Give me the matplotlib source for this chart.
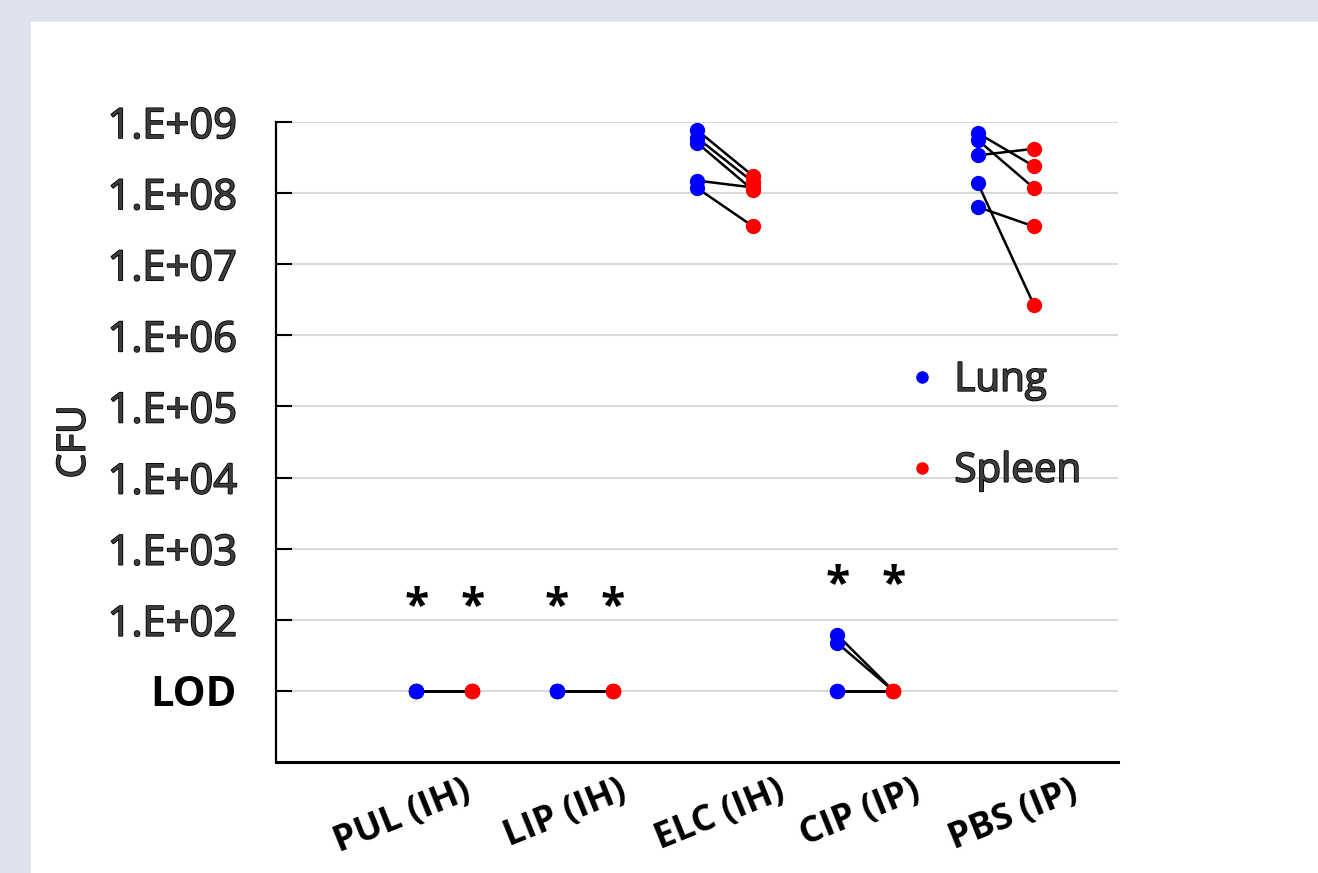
import matplotlib
matplotlib.use('Agg')
import matplotlib.pyplot as plt
import matplotlib.patheffects as pe
import matplotlib.transforms as mtrans
import numpy as np

# groups and paired lung / spleen CFU per mouse (LOD plotted at 1e1)
groups = ['PUL (IH)', 'LIP (IH)', 'ELC (IH)', 'CIP (IP)', 'PBS (IP)']
lung = [
    [10, 10, 10, 10, 10],
    [10, 10, 10, 10, 10],
    [7.7e8, 6.0e8, 5.1e8, 1.5e8, 1.18e8],
    [61, 47, 10, 10, 10],
    [7.0e8, 5.6e8, 3.4e8, 1.39e8, 6.4e7],
]
spleen = [
    [10, 10, 10, 10, 10],
    [10, 10, 10, 10, 10],
    [1.74e8, 1.43e8, 1.1e8, 1.2e8, 3.4e7],
    [10, 10, 10, 10, 10],
    [2.4e8, 1.18e8, 4.2e8, 2.7e6, 3.4e7],
]
sig_groups = ['PUL (IH)', 'LIP (IH)', 'CIP (IP)']
sig_height = [150, 150, 300]

ytick_vals = [1e1, 1e2, 1e3, 1e4, 1e5, 1e6, 1e7, 1e8, 1e9]
ytick_labels = ['LOD', '1.E+02', '1.E+03', '1.E+04', '1.E+05',
                '1.E+06', '1.E+07', '1.E+08', '1.E+09']

FONT = ['Open Sans', 'DejaVu Sans']
outline = [pe.withStroke(linewidth=1.2, foreground='black')]

fig = plt.figure(figsize=(13.18, 8.73), dpi=100)
fig.patch.set_facecolor('#dfe2ec')
# white panel
fig.add_artist(plt.Rectangle((31 / 1318, 0), 1, 1 - 22 / 873,
                             transform=fig.transFigure, color='white', zorder=0))

ax = fig.add_axes([276 / 1318, 1 - 762 / 873, 842 / 1318, 640 / 873])
ax.set_facecolor('none')
ax.set_yscale('log')
ax.set_ylim(1, 1e9)
ax.set_xlim(0, 6)

for i, g in enumerate(groups):
    xl, xs = i + 1.0, i + 1.4
    for a, b in zip(lung[i], spleen[i]):
        ax.plot([xl, xs], [a, b], color='black', lw=1.8, zorder=2)
    ax.plot([xl] * len(lung[i]), lung[i], 'o', color='#0000ff', ms=10, zorder=3,
            label='Lung' if i == 0 else None)
    ax.plot([xs] * len(spleen[i]), spleen[i], 'o', color='#ff0000', ms=10, zorder=3,
            label='Spleen' if i == 0 else None)

for g, h in zip(sig_groups, sig_height):
    i = groups.index(g)
    for x in (i + 1.0, i + 1.4):
        ax.text(x, h, '*', ha='center', va='center', fontsize=32,
                fontweight='bold', family=FONT)

ax.set_yticks(ytick_vals)
ax.set_yticklabels(ytick_labels)
ax.minorticks_off()
ax.yaxis.grid(True, color='#d9d9d9', lw=1.5, zorder=0)
ax.tick_params(axis='y', direction='in', length=11.5, width=1.5, pad=28)
for lab in ax.get_yticklabels():
    lab.set_family(FONT)
    lab.set_fontsize(30)
    if lab.get_text() == 'LOD':
        lab.set_fontweight('bold')
        lab.set_color('black')
    else:
        lab.set_color('#3c3c3c')
        lab.set_path_effects(outline)

ax.set_xticks([i + 1.2 for i in range(len(groups))])
ax.set_xticklabels(groups, rotation=22, ha='right', rotation_mode='anchor',
                   fontsize=26, fontweight='bold', family=FONT)
ax.tick_params(axis='x', length=0, pad=8)
# Excel-style label placement: shift each label a bit to the right
shift_px = [18, 34, 52, 47, 64]
for lab, dx in zip(ax.get_xticklabels(), shift_px):
    lab.set_transform(lab.get_transform() +
                      mtrans.ScaledTranslation(dx / 100, 0, fig.dpi_scale_trans))

ax.set_ylabel('CFU', fontsize=28, family=FONT, color='#3c3c3c', labelpad=10,
              path_effects=outline)

for s in ['top', 'right']:
    ax.spines[s].set_visible(False)
ax.spines['left'].set_linewidth(1.6)
ax.spines['bottom'].set_linewidth(2.2)

leg = ax.legend(loc='center left', bbox_to_anchor=(0.71, 0.525), frameon=False,
                prop={'family': FONT, 'size': 29}, labelspacing=1.25,
                handlelength=0.6, handletextpad=0.5, markerscale=1.0)
for t in leg.get_texts():
    t.set_color('#3c3c3c')
    t.set_path_effects(outline)
for h in leg.legend_handles:
    h.set_markersize(8)

fig.savefig('out.png', dpi=100, facecolor=fig.get_facecolor())
